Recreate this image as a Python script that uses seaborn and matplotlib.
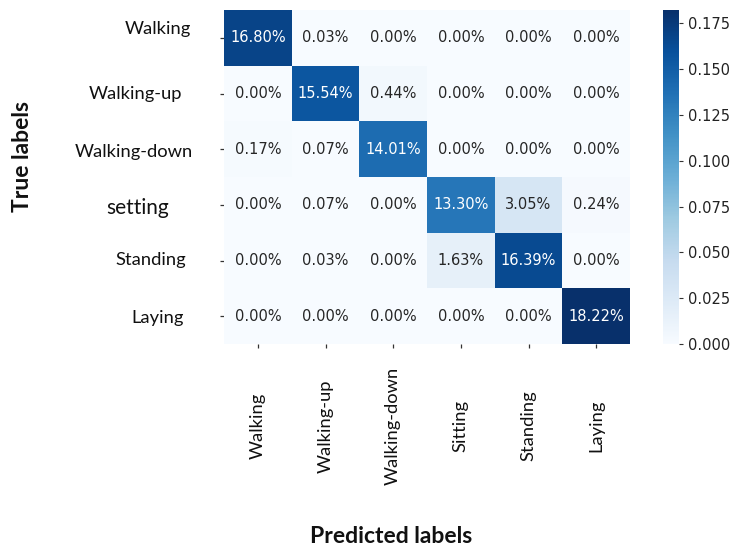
import numpy as np
import pandas as pd
import matplotlib
matplotlib.use("Agg")
import matplotlib.pyplot as plt
import matplotlib.transforms as mtransforms
import seaborn as sns

# Confusion-matrix fractions (rows: true class, columns: predicted class)
true_labels = ["Walking", "Walking-up", "Walking-down", "setting", "Standing", "Laying"]
pred_labels = ["Walking", "Walking-up", "Walking-down", "Sitting", "Standing", "Laying"]
row_walking = [0.1680, 0.0003, 0.0000, 0.0000, 0.0000, 0.0000]
row_walking_up = [0.0000, 0.1554, 0.0044, 0.0000, 0.0000, 0.0000]
row_walking_down = [0.0017, 0.0007, 0.1401, 0.0000, 0.0000, 0.0000]
row_sitting = [0.0000, 0.0007, 0.0000, 0.1330, 0.0305, 0.0024]
row_standing = [0.0000, 0.0003, 0.0000, 0.0163, 0.1639, 0.0000]
row_laying = [0.0000, 0.0000, 0.0000, 0.0000, 0.0000, 0.1822]

cm = pd.DataFrame(
    [row_walking, row_walking_up, row_walking_down, row_sitting, row_standing, row_laying],
    index=true_labels, columns=pred_labels,
)

sns.set_theme(style="white")
plt.rcParams["font.family"] = ["DejaVu Sans"]

fig = plt.figure(figsize=(7.35, 5.48), dpi=100)
ax = fig.add_axes([224 / 735, 1 - 344 / 548, 406 / 735, 334 / 548])
cax = fig.add_axes([663 / 735, 1 - 344 / 548, 16 / 735, 334 / 548])

sns.heatmap(cm, annot=True, fmt=".2%", cmap="Blues", ax=ax, cbar_ax=cax,
            annot_kws={"fontsize": 10.5, "fontfamily": "DejaVu Sans"})

label_font = "Lato"
ax.tick_params(axis="both", which="both", length=3, width=0.9, color="#333333",
               bottom=True, left=True)
ax.tick_params(axis="y", pad=22)
ax.tick_params(axis="x", pad=56)

ax.set_yticklabels(true_labels, rotation=0, fontfamily=label_font, fontsize=13.2,
                   color="#111111")
# small per-label nudges (pixels) for the row captions
nudges = {"Walking": (2, 9), "Walking-up": (-7, 0), "Walking-down": (4, -3),
          "setting": (-20, -3), "Standing": (-3, 0), "Laying": (-6, -2)}
for t in ax.get_yticklabels():
    name = t.get_text()
    if name == "setting":
        t.set_fontsize(15)
    dx, dy = nudges.get(name, (0, 0))
    t.set_transform(t.get_transform()
                    + mtransforms.ScaledTranslation(dx / 100, dy / 100, fig.dpi_scale_trans))

ax.set_xticklabels(pred_labels, rotation=90, fontfamily=label_font, fontsize=13.2,
                   color="#111111", ha="center", va="center", rotation_mode="anchor")

ax.set_xlabel("Predicted labels", fontfamily=label_font, fontweight="bold", fontsize=16.5,
              color="#111111")
ax.set_ylabel("True labels", fontfamily=label_font, fontweight="bold", fontsize=16.5,
              color="#111111")
ax.xaxis.set_label_coords(0.411, -0.545)
ax.yaxis.set_label_coords(-0.47, 0.5625)

cax.tick_params(labelsize=10.5, length=3, width=0.8, color="#333333", labelcolor="#222222",
                right=True)
cax.set_yticks([0.0, 0.025, 0.05, 0.075, 0.1, 0.125, 0.15, 0.175])
cax.set_yticklabels(["0.000", "0.025", "0.050", "0.075", "0.100", "0.125", "0.150", "0.175"],
                    fontfamily="DejaVu Sans")

fig.savefig("out.png", dpi=100, facecolor="white")
